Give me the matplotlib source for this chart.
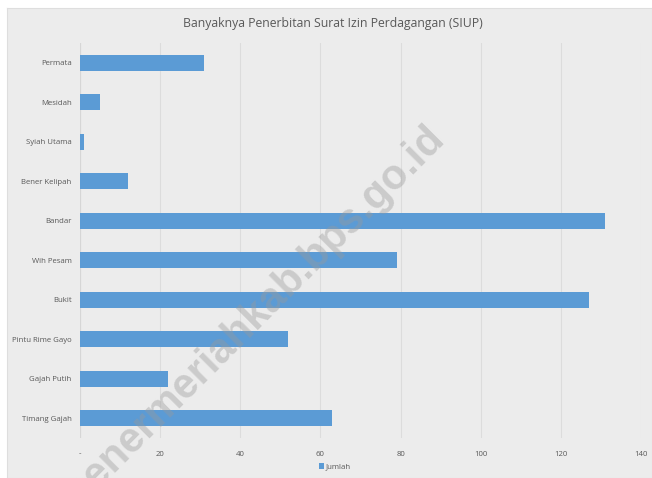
import matplotlib.pyplot as plt

kecamatan = ['Permata', 'Mesidah', 'Syiah Utama', 'Bener Kelipah', 'Bandar',
             'Wih Pesam', 'Bukit', 'Pintu Rime Gayo', 'Gajah Putih', 'Timang Gajah']
jumlah = [31, 5, 1, 12, 131, 79, 127, 52, 22, 63]
xticks = [0, 20, 40, 60, 80, 100, 120, 140]
xtick_labels = ['-', '20', '40', '60', '80', '100', '120', '140']

plt.rcParams['font.family'] = ['Open Sans', 'DejaVu Sans']
teks = '#595959'
latar = '#ececec'

fig = plt.figure(figsize=(6.52, 4.78), dpi=100)
fig.patch.set_facecolor('white')

# area grafik (latar abu-abu)
bg = fig.add_axes([7 / 652, 0, 1 - 7 / 652, 1 - 8 / 478], zorder=-1)
bg.set_facecolor(latar)
bg.set_xticks([])
bg.set_yticks([])
for s in bg.spines.values():
    s.set_color('#dedede')
    s.set_linewidth(0.8)

ax = fig.add_axes([80 / 652, 40 / 478, 561 / 652, 395 / 478])
ax.set_facecolor('none')
ax.barh(kecamatan, jumlah, height=0.41, color='#5b9bd5', zorder=3, label='Jumlah')
ax.set_xlim(0, 140)
ax.set_ylim(9.5, -0.5)
ax.set_xticks(xticks)
ax.set_xticklabels(xtick_labels)
ax.grid(axis='x', color='#dcdcdc', linewidth=0.8, zorder=1)
for s in ax.spines.values():
    s.set_visible(False)
ax.axvline(0, color='#d6d6d6', linewidth=0.8, zorder=2)
ax.tick_params(axis='both', length=0, labelsize=5.6, colors=teks, pad=6)
ax.tick_params(axis='x', pad=9)

fig.text(333 / 652, 1 - 24 / 478, 'Banyaknya Penerbitan Surat Izin Perdagangan (SIUP)',
         ha='center', va='center', fontsize=8.8, color=teks)

fig.legend(loc='center', bbox_to_anchor=(335 / 652, 1 - 467 / 478), frameon=False,
           fontsize=5.6, labelcolor=teks, handlelength=0.7, handleheight=0.7,
           handletextpad=0.2)

# watermark
wm = fig.text(446 / 652, 1 - 140 / 478, 'benermeriahkab.bps.go.id', ha='right', va='baseline',
              rotation=45, rotation_mode='anchor', fontsize=30, fontweight='bold',
              family='Liberation Sans', color='#9a9a9a', alpha=0.4, zorder=5)
wm.set_clip_path(bg.patch)

fig.savefig('out.png', dpi=100)
